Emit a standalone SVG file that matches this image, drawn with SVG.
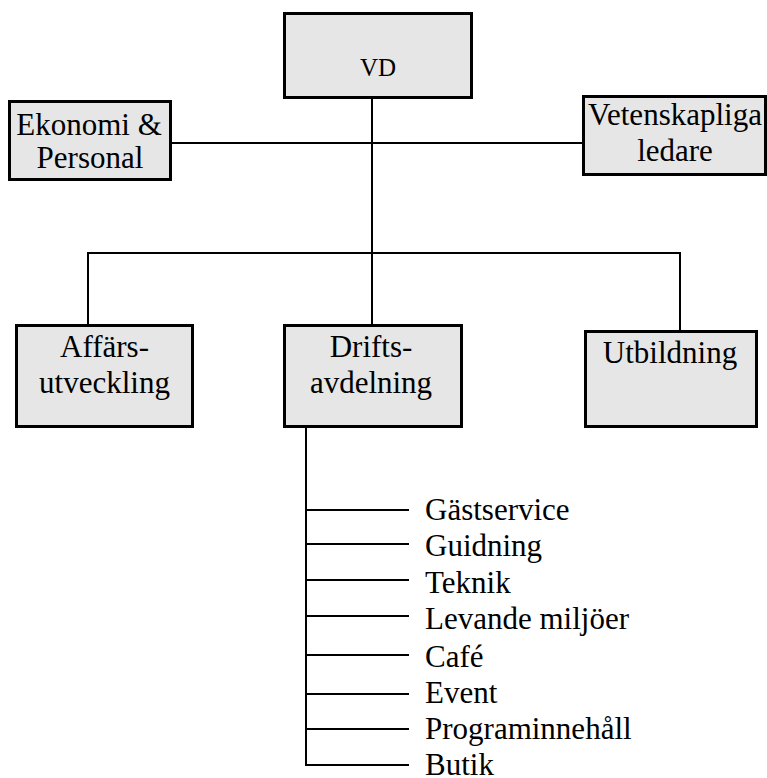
<svg xmlns="http://www.w3.org/2000/svg" width="767" height="778" viewBox="0 0 767 778">
<style>
.box{fill:#e6e6e6;stroke:#000;stroke-width:3}
.t{font-family:"Liberation Serif","Times New Roman",serif;font-size:31px;fill:#000}
.c{text-anchor:middle}
.ln{stroke:#000;stroke-width:2;fill:none}
</style>
<rect width="767" height="778" fill="#fff"/>
<g id="connectors">
<line class="ln" x1="372" y1="98" x2="372" y2="325"/>
<line class="ln" x1="172" y1="143" x2="583" y2="143"/>
<polyline class="ln" points="88,325 88,253 680,253 680,331"/>
<line class="ln" x1="306" y1="427" x2="306" y2="766"/>
<line class="ln" x1="305" y1="510" x2="409" y2="510"/>
<line class="ln" x1="305" y1="544" x2="409" y2="544"/>
<line class="ln" x1="305" y1="580" x2="409" y2="580"/>
<line class="ln" x1="305" y1="616" x2="409" y2="616"/>
<line class="ln" x1="305" y1="655" x2="409" y2="655"/>
<line class="ln" x1="305" y1="694" x2="409" y2="694"/>
<line class="ln" x1="305" y1="729" x2="409" y2="729"/>
<line class="ln" x1="305" y1="765" x2="409" y2="765"/>
</g>
<g id="vd"><rect class="box" x="284.5" y="13.5" width="187" height="84"/><text class="t c" x="378" y="76" style="font-size:25px">VD</text></g>
<g id="ekonomi"><rect class="box" x="9.5" y="101.5" width="161" height="78"/><text class="t c" x="89" y="135">Ekonomi &amp;</text><text class="t c" x="90" y="168">Personal</text></g>
<g id="vetenskapliga"><rect class="box" x="583.5" y="96.5" width="182" height="78"/><text class="t c" x="675" y="125">Vetenskapliga</text><text class="t c" x="675" y="161">ledare</text></g>
<g id="affars"><rect class="box" x="16.5" y="325.5" width="176" height="101"/><text class="t c" x="104.5" y="357">Affärs-</text><text class="t c" x="104.5" y="393">utveckling</text></g>
<g id="drifts"><rect class="box" x="284.5" y="325.5" width="177" height="101"/><text class="t c" x="371" y="357">Drifts-</text><text class="t c" x="371" y="393">avdelning</text></g>
<g id="utbildning"><rect class="box" x="585.5" y="331.5" width="171" height="95"/><text class="t c" x="670" y="363">Utbildning</text></g>
<g id="list">
<text class="t" x="425" y="520">Gästservice</text>
<text class="t" x="425" y="556">Guidning</text>
<text class="t" x="425" y="593">Teknik</text>
<text class="t" x="425" y="629">Levande miljöer</text>
<text class="t" x="425" y="667">Café</text>
<text class="t" x="425" y="703">Event</text>
<text class="t" x="425" y="739">Programinnehåll</text>
<text class="t" x="425" y="775">Butik</text>
</g>
</svg>
